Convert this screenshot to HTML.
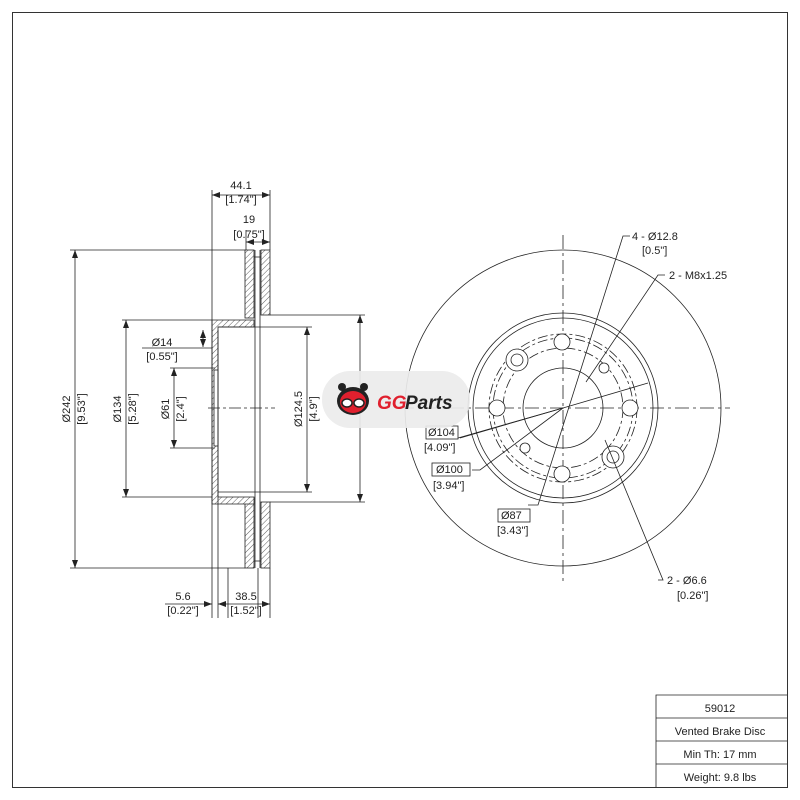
<!DOCTYPE html>
<html><head><meta charset="utf-8"><style>
html,body{margin:0;padding:0;background:#fff;}
svg{display:block;}
text{font-family:"Liberation Sans",sans-serif;font-size:11px;fill:#222;}
</style></head><body>
<svg width="800" height="800" viewBox="0 0 800 800" xmlns="http://www.w3.org/2000/svg">
<defs>
<pattern id="h" width="4" height="4" patternUnits="userSpaceOnUse" patternTransform="rotate(45)">
<rect width="4" height="4" fill="#fff"/><line x1="0" y1="0" x2="0" y2="4" stroke="#333" stroke-width="0.8"/></pattern>
<marker id="a" markerWidth="8" markerHeight="6" refX="8" refY="3" orient="auto-start-reverse" markerUnits="userSpaceOnUse"><path d="M0,0 L8,3 L0,6 z" fill="#222"/></marker>
</defs>
<rect x="12.5" y="12.5" width="775" height="775" fill="none" stroke="#333" stroke-width="1"/>
<g stroke="#222" stroke-width="0.8" fill="none">
<!-- section view -->
<rect x="245" y="250" width="9" height="68" fill="url(#h)"/>
<rect x="261" y="250" width="9" height="65" fill="url(#h)"/>
<rect x="245" y="498" width="9" height="70" fill="url(#h)"/>
<rect x="261" y="502" width="9" height="66" fill="url(#h)"/>
<path d="M212,320 H254 V327 H218 V497 H254 V504 H212 Z" fill="url(#h)"/>
<rect x="214" y="370" width="4" height="76" fill="#fff"/>
<line x1="255" y1="250" x2="255" y2="568"/><line x1="260" y1="250" x2="260" y2="568"/>
<line x1="254" y1="257" x2="261" y2="257"/><line x1="254" y1="561" x2="261" y2="561"/>
<line x1="212" y1="190" x2="212" y2="618"/><line x1="218" y1="330" x2="218" y2="618"/>
<line x1="270" y1="190" x2="270" y2="250"/><line x1="270" y1="568" x2="270" y2="618"/>
<line x1="228" y1="568" x2="228" y2="618"/>
<line x1="258" y1="568" x2="258" y2="618"/>
<line x1="246" y1="230" x2="246" y2="250"/>
<line x1="212" y1="195" x2="270" y2="195" marker-start="url(#a)" marker-end="url(#a)"/>
<line x1="246" y1="242" x2="270" y2="242" marker-start="url(#a)" marker-end="url(#a)"/>
<line x1="165" y1="604" x2="212" y2="604" marker-end="url(#a)"/>
<line x1="218" y1="604" x2="270" y2="604" marker-start="url(#a)" marker-end="url(#a)"/>
<!-- left dims -->
<line x1="70" y1="250" x2="245" y2="250"/><line x1="70" y1="568" x2="245" y2="568"/>
<line x1="75" y1="250" x2="75" y2="568" marker-start="url(#a)" marker-end="url(#a)"/>
<line x1="122" y1="320" x2="212" y2="320"/><line x1="122" y1="497" x2="212" y2="497"/>
<line x1="126" y1="320" x2="126" y2="497" marker-start="url(#a)" marker-end="url(#a)"/>
<line x1="170" y1="368" x2="215" y2="368"/><line x1="170" y1="448" x2="215" y2="448"/>
<line x1="174" y1="368" x2="174" y2="448" marker-start="url(#a)" marker-end="url(#a)"/>
<line x1="203" y1="330" x2="203" y2="347" marker-start="url(#a)" marker-end="url(#a)"/>
<line x1="142" y1="348" x2="212" y2="348"/>
<line x1="218" y1="327" x2="312" y2="327"/><line x1="218" y1="492" x2="312" y2="492"/>
<line x1="307" y1="327" x2="307" y2="492" marker-start="url(#a)" marker-end="url(#a)"/>
<line x1="270" y1="315" x2="365" y2="315"/><line x1="270" y1="502" x2="365" y2="502"/>
<line x1="360" y1="315" x2="360" y2="502" marker-start="url(#a)" marker-end="url(#a)"/>
<line x1="208" y1="408" x2="275" y2="408" stroke-dasharray="12,3,3,3"/>
<!-- front view -->
<circle cx="563" cy="408" r="158"/>
<circle cx="563" cy="408" r="95"/><circle cx="563" cy="408" r="90"/>
<circle cx="563" cy="408" r="40"/>
<circle cx="563" cy="408" r="60" stroke-dasharray="10,3,3,3"/>
<circle cx="563" cy="408" r="70" stroke-dasharray="10,3,3,3"/>
<circle cx="563" cy="408" r="74" stroke-dasharray="10,3,3,3"/>
<line x1="400" y1="408" x2="730" y2="408" stroke-dasharray="14,4,3,4"/>
<line x1="563" y1="235" x2="563" y2="585" stroke-dasharray="14,4,3,4"/>
<circle cx="562" cy="342" r="8" fill="#fff"/><circle cx="497" cy="408" r="8" fill="#fff"/>
<circle cx="630" cy="408" r="8" fill="#fff"/><circle cx="562" cy="474" r="8" fill="#fff"/>
<circle cx="517" cy="360" r="11" fill="#fff"/><circle cx="517" cy="360" r="6"/>
<circle cx="613" cy="457" r="11" fill="#fff"/><circle cx="613" cy="457" r="6"/>
<circle cx="604" cy="368" r="5" fill="#fff"/><circle cx="525" cy="448" r="5" fill="#fff"/>
<!-- leaders -->
<polyline points="630,236 623,236 538,505 528,505"/>
<polyline points="665,275 658,275 586,382"/>
<line x1="563" y1="408" x2="648" y2="383"/>
<line x1="563" y1="408" x2="460" y2="438"/>
<polyline points="458,438 563,408"/>
<polyline points="472,470 480,470 563,408"/>
<polyline points="658,580 663,580 605,440"/>
<rect x="426" y="426" width="32" height="13"/>
<rect x="432" y="463" width="38" height="13"/>
<rect x="498" y="509" width="32" height="13"/>
<!-- table -->
<polyline points="656,787 656,695 787,695"/>
<line x1="656" y1="718" x2="787" y2="718"/><line x1="656" y1="741" x2="787" y2="741"/><line x1="656" y1="764" x2="787" y2="764"/>
</g>
<!-- labels -->
<text x="241" y="189" text-anchor="middle">44.1</text><text x="241" y="203" text-anchor="middle">[1.74"]</text>
<text x="249" y="223" text-anchor="middle">19</text><text x="249" y="238" text-anchor="middle">[0.75"]</text>
<text x="183" y="600" text-anchor="middle">5.6</text><text x="183" y="614" text-anchor="middle">[0.22"]</text>
<text x="246" y="600" text-anchor="middle">38.5</text><text x="246" y="614" text-anchor="middle">[1.52"]</text>
<text x="162" y="346" text-anchor="middle">Ø14</text><text x="162" y="360" text-anchor="middle">[0.55"]</text>
<g text-anchor="middle">
<text transform="translate(70,409) rotate(-90)">Ø242</text><text transform="translate(85,409) rotate(-90)">[9.53"]</text>
<text transform="translate(121,409) rotate(-90)">Ø134</text><text transform="translate(136,409) rotate(-90)">[5.28"]</text>
<text transform="translate(169,409) rotate(-90)">Ø61</text><text transform="translate(184,409) rotate(-90)">[2.4"]</text>
<text transform="translate(302,409) rotate(-90)">Ø124.5</text><text transform="translate(317,409) rotate(-90)">[4.9"]</text>
</g>
<text x="632" y="240">4 - Ø12.8</text><text x="642" y="254">[0.5"]</text>
<text x="669" y="279">2 - M8x1.25</text>
<text x="428" y="436">Ø104</text><text x="424" y="451">[4.09"]</text>
<text x="436" y="473">Ø100</text><text x="433" y="489">[3.94"]</text>
<text x="501" y="519">Ø87</text><text x="497" y="534">[3.43"]</text>
<text x="667" y="584">2 - Ø6.6</text><text x="677" y="599">[0.26"]</text>
<g text-anchor="middle" style="font-size:12px">
<text x="720" y="712">59012</text><text x="720" y="735">Vented Brake Disc</text>
<text x="720" y="758">Min Th: 17 mm</text><text x="720" y="781">Weight: 9.8 lbs</text>
</g>
<!-- logo -->
<rect x="322" y="371" width="148" height="57" rx="28" fill="#ececec" opacity="0.92"/>
<ellipse cx="353" cy="401" rx="16" ry="14" fill="#222"/>
<ellipse cx="353" cy="402" rx="13" ry="11" fill="#e0202e"/>
<circle cx="342" cy="387" r="4" fill="#222"/><circle cx="364" cy="387" r="4" fill="#222"/>
<ellipse cx="347" cy="403" rx="5" ry="4" fill="#fff" stroke="#222" stroke-width="1.5"/>
<ellipse cx="359" cy="403" rx="5" ry="4" fill="#fff" stroke="#222" stroke-width="1.5"/>
<text x="377" y="409" style="font-size:19px;font-weight:bold;font-style:italic;fill:#e0202e">GG</text>
<text x="405" y="409" style="font-size:19px;font-weight:bold;font-style:italic;fill:#222">Parts</text>
</svg>
</body></html>
